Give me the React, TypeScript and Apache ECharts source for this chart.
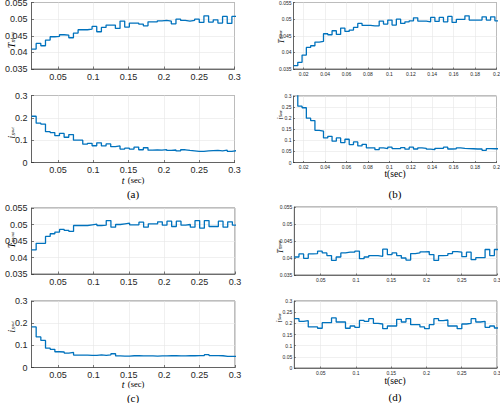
import React, { useEffect, useRef } from "react";
import * as echarts from "echarts";

// sampling of the stair signals (seconds)
const T0_LONG = 0.0125;
const DT_LONG = 0.0066;
const T0_SHORT = 0.0105;
const DT_SHORT = 0.004;

// (a)
const torqueA = [0.041, 0.0427, 0.042, 0.0437, 0.0447, 0.0448, 0.0453, 0.0452, 0.0444, 0.0458, 0.0468, 0.0468, 0.047, 0.0478, 0.0462, 0.0475, 0.0482, 0.0482, 0.0472, 0.0494, 0.0476, 0.0488, 0.0488, 0.0485, 0.048, 0.0492, 0.0492, 0.0495, 0.0496, 0.0494, 0.0486, 0.05, 0.0496, 0.0494, 0.0496, 0.05, 0.049, 0.051, 0.0491, 0.0498, 0.0488, 0.0508, 0.0487, 0.0508];
const currentA = [0.207, 0.176, 0.172, 0.138, 0.134, 0.12, 0.13, 0.113, 0.125, 0.1, 0.1, 0.082, 0.086, 0.075, 0.088, 0.074, 0.083, 0.071, 0.074, 0.06, 0.064, 0.06, 0.069, 0.057, 0.066, 0.055, 0.056, 0.055, 0.058, 0.054, 0.056, 0.052, 0.057, 0.054, 0.052, 0.05, 0.05, 0.052, 0.053, 0.054, 0.052, 0.055, 0.05, 0.053];
// (b)
const torqueB = [0.036, 0.037, 0.0392, 0.0415, 0.042, 0.0431, 0.0433, 0.0456, 0.0453, 0.0465, 0.0454, 0.0473, 0.0463, 0.0467, 0.0475, 0.0487, 0.0481, 0.0481, 0.048, 0.048, 0.0494, 0.0485, 0.0497, 0.0482, 0.05, 0.0487, 0.0492, 0.0495, 0.0504, 0.0494, 0.0494, 0.0492, 0.0505, 0.0493, 0.0505, 0.0492, 0.0508, 0.049, 0.0499, 0.0499, 0.051, 0.0497, 0.0497, 0.0497, 0.0507, 0.0497, 0.0507, 0.0495];
const currentB = [0.32, 0.254, 0.247, 0.2, 0.189, 0.145, 0.142, 0.111, 0.118, 0.096, 0.111, 0.09, 0.105, 0.081, 0.093, 0.075, 0.082, 0.066, 0.066, 0.058, 0.066, 0.063, 0.069, 0.063, 0.063, 0.067, 0.06, 0.069, 0.061, 0.066, 0.064, 0.06, 0.058, 0.064, 0.064, 0.069, 0.061, 0.062, 0.066, 0.064, 0.063, 0.062, 0.061, 0.061, 0.055, 0.063, 0.062, 0.062];
// (c)
const torqueC = [0.0423, 0.0443, 0.0443, 0.0464, 0.0472, 0.0477, 0.0485, 0.0482, 0.0479, 0.0497, 0.0497, 0.0497, 0.0499, 0.0501, 0.0497, 0.0498, 0.0512, 0.0492, 0.05, 0.0502, 0.0504, 0.0499, 0.0499, 0.0507, 0.0492, 0.0502, 0.0502, 0.0508, 0.0498, 0.051, 0.0494, 0.051, 0.0498, 0.05, 0.0492, 0.0512, 0.0489, 0.0512, 0.0494, 0.0494, 0.051, 0.0492, 0.0508, 0.0498];
const currentC = [0.183, 0.138, 0.122, 0.087, 0.082, 0.071, 0.07, 0.065, 0.068, 0.056, 0.056, 0.056, 0.055, 0.055, 0.057, 0.055, 0.057, 0.062, 0.052, 0.051, 0.051, 0.053, 0.053, 0.052, 0.052, 0.052, 0.051, 0.052, 0.052, 0.053, 0.053, 0.052, 0.052, 0.053, 0.053, 0.054, 0.054, 0.058, 0.054, 0.054, 0.053, 0.05, 0.05, 0.05];
// (d)
const torqueD = [0.0403, 0.0412, 0.0399, 0.0412, 0.0413, 0.042, 0.0415, 0.0407, 0.0393, 0.0403, 0.0415, 0.0417, 0.0417, 0.042, 0.0398, 0.0403, 0.0407, 0.0407, 0.0405, 0.0426, 0.041, 0.0415, 0.0407, 0.04, 0.0394, 0.0413, 0.0415, 0.0418, 0.0419, 0.041, 0.0393, 0.0407, 0.0408, 0.0413, 0.0419, 0.0417, 0.0404, 0.0417, 0.0395, 0.0401, 0.0401, 0.0425, 0.0407, 0.0425];
const currentD = [0.221, 0.209, 0.212, 0.184, 0.184, 0.178, 0.203, 0.203, 0.224, 0.206, 0.206, 0.178, 0.188, 0.182, 0.213, 0.209, 0.221, 0.2, 0.197, 0.176, 0.188, 0.188, 0.218, 0.206, 0.221, 0.194, 0.194, 0.184, 0.176, 0.194, 0.221, 0.212, 0.215, 0.188, 0.188, 0.176, 0.197, 0.2, 0.221, 0.206, 0.209, 0.182, 0.188, 0.179];

const captions = ["(a)", "(b)", "(c)", "(d)"];

function stairs(t0: number, dt: number, vals: number[]) {
  const pts = vals.map((v, i) => [t0 + i * dt, v]);
  pts.push([t0 + vals.length * dt, vals[vals.length - 1]]);
  return pts;
}

type Plot = { left: number; top: number; width: number; height: number; vals: number[]; kind: "T" | "i"; nameX: number; nameY: number };
type Panel = {
  small: boolean; xMin: number; xMax: number; xSplit: number; t0: number; dt: number;
  plots: Plot[]; cx: number; titleY: number; capY: number; iStep: number;
};

const panels: Panel[] = [
  {
    small: false, xMin: 0.0125, xMax: 0.3, xSplit: 6, t0: T0_LONG, dt: DT_LONG, iStep: 0.1,
    plots: [
      { left: 31.5, top: 2.5, width: 203, height: 66.5, vals: torqueA, kind: "T", nameX: 4.5, nameY: 40 },
      { left: 31.5, top: 95.5, width: 203, height: 67, vals: currentA, kind: "i", nameX: 4.5, nameY: 133 },
    ],
    cx: 133, titleY: 180, capY: 194,
  },
  {
    small: true, xMin: 0.0105, xMax: 0.2, xSplit: 10, t0: T0_SHORT, dt: DT_SHORT, iStep: 0.05,
    plots: [
      { left: 293.5, top: 2.5, width: 203, height: 66.5, vals: torqueB, kind: "T", nameX: 275, nameY: 37 },
      { left: 293.5, top: 96, width: 203, height: 66.5, vals: currentB, kind: "i", nameX: 274.5, nameY: 115 },
    ],
    cx: 395, titleY: 174, capY: 194,
  },
  {
    small: false, xMin: 0.0125, xMax: 0.3, xSplit: 6, t0: T0_LONG, dt: DT_LONG, iStep: 0.1,
    plots: [
      { left: 31.5, top: 208, width: 203.5, height: 66, vals: torqueC, kind: "T", nameX: 4.5, nameY: 240 },
      { left: 31.5, top: 301, width: 203.5, height: 66.5, vals: currentC, kind: "i", nameX: 4.5, nameY: 327 },
    ],
    cx: 133, titleY: 384, capY: 398,
  },
  {
    small: true, xMin: 0.0125, xMax: 0.3, xSplit: 6, t0: T0_LONG, dt: DT_LONG, iStep: 0.05,
    plots: [
      { left: 294.3, top: 207, width: 202.7, height: 68, vals: torqueD, kind: "T", nameX: 274, nameY: 247 },
      { left: 294.3, top: 301, width: 202.7, height: 67, vals: currentD, kind: "i", nameX: 273.5, nameY: 318 },
    ],
    cx: 395, titleY: 381, capY: 397,
  },
];

const AX = "#262626";
const GRIDC = "#e6e6e6";
const SERIF = '"Liberation Serif", "DejaVu Serif", serif';
const SANS = '"Liberation Sans", Arial, sans-serif';

function nameGroup(kind: "T" | "i", x: number, y: number, small: boolean) {
  const s = small ? 0.8 : 1;
  const mk = (text: string, lx: number, ly: number, size: number) => ({
    type: "text", x: lx * s, y: ly * s, silent: true,
    style: { text, fontSize: size * s, fontStyle: "italic", fontFamily: SERIF, fill: "#000", align: "left", verticalAlign: "alphabetic" },
  });
  const children = kind === "T"
    ? [mk("T", -8, 2.5, 9.5), mk("m", -2.4, 4, 6.5), mk("out", 2.4, 5, 4.5)]
    : [mk("i", -5.5, 2.5, 9.5), mk("s", -2.6, 4, 6.5), mk("out", -0.1, 5, 4.5)];
  return { type: "group", x, y, rotation: Math.PI / 2, silent: true, children };
}

function buildOption() {
  const grid: any[] = [];
  const xAxis: any[] = [];
  const yAxis: any[] = [];
  const series: any[] = [];
  const graphic: any[] = [];

  panels.forEach((p, pi) => {
    const fs = p.small ? 5 : 9;
    p.plots.forEach((pl) => {
      const idx = grid.length;
      grid.push({
        left: pl.left, top: pl.top, width: pl.width, height: pl.height,
        show: true, borderColor: AX, borderWidth: 0.6, backgroundColor: "#ffffff",
        containLabel: false, outerBoundsMode: "none",
      });
      xAxis.push({
        type: "value", gridIndex: idx, min: p.xMin, max: p.xMax, splitNumber: p.xSplit,
        axisLine: { show: true, onZero: false, lineStyle: { color: AX, width: 0.6 } },
        axisTick: { show: true, inside: true, length: p.small ? 1.5 : 2.5, lineStyle: { color: AX, width: 0.6 } },
        axisLabel: { fontSize: fs, color: AX, fontFamily: SANS, margin: p.small ? 2 : 3, showMinLabel: false },
        splitLine: { show: true, lineStyle: { color: GRIDC, width: 0.6 } },
      });
      const isT = pl.kind === "T";
      yAxis.push({
        type: "value", gridIndex: idx,
        min: isT ? 0.035 : 0, max: isT ? 0.055 : 0.3, interval: isT ? 0.005 : p.iStep,
        axisLine: { show: true, onZero: false, lineStyle: { color: AX, width: 0.6 } },
        axisTick: { show: true, inside: true, length: p.small ? 1.5 : 2.5, lineStyle: { color: AX, width: 0.6 } },
        axisLabel: { fontSize: fs, color: AX, fontFamily: SANS, margin: p.small ? 2 : 4 },
        splitLine: { show: true, lineStyle: { color: GRIDC, width: 0.6 } },
      });
      series.push({
        type: "line", xAxisIndex: idx, yAxisIndex: idx, step: "end",
        data: stairs(p.t0, p.dt, pl.vals), showSymbol: false, symbol: "none",
        lineStyle: { color: "#0072BD", width: 1.3 }, clip: true, silent: true,
      });
      graphic.push(nameGroup(pl.kind, pl.nameX, pl.nameY, p.small));
    });
    // x title under bottom plot
    graphic.push({
      type: "text", x: p.cx, y: p.titleY, silent: true,
      style: p.small
        ? { text: "t(sec)", fontSize: 9.5, fontFamily: SERIF, fill: "#000", align: "center", verticalAlign: "middle" }
        : {
            text: "{i|t} {n|(sec)}", align: "center", verticalAlign: "middle", fill: "#000",
            rich: {
              i: { fontSize: 10, fontStyle: "italic", fontFamily: SERIF, fill: "#000" },
              n: { fontSize: 8.5, fontFamily: SERIF, fill: "#000" },
            },
          },
    });
    graphic.push({
      type: "text", x: p.cx, y: p.capY, silent: true,
      style: { text: captions[pi], fontSize: 11, fontFamily: SERIF, fill: "#000", align: "center", verticalAlign: "middle" },
    });
  });

  return { animation: false, backgroundColor: "#ffffff", grid, xAxis, yAxis, series, graphic };
}

export default function App() {
  const ref = useRef<HTMLDivElement>(null);
  useEffect(() => {
    document.body.style.margin = "0";
    if (!ref.current) return;
    const chart = echarts.init(ref.current, null, { renderer: "svg" });
    chart.setOption(buildOption());
    return () => chart.dispose();
  }, []);
  return <div ref={ref} style={{ position: "absolute", left: 0, top: 0, width: 500, height: 403, background: "#fff" }} />;
}
